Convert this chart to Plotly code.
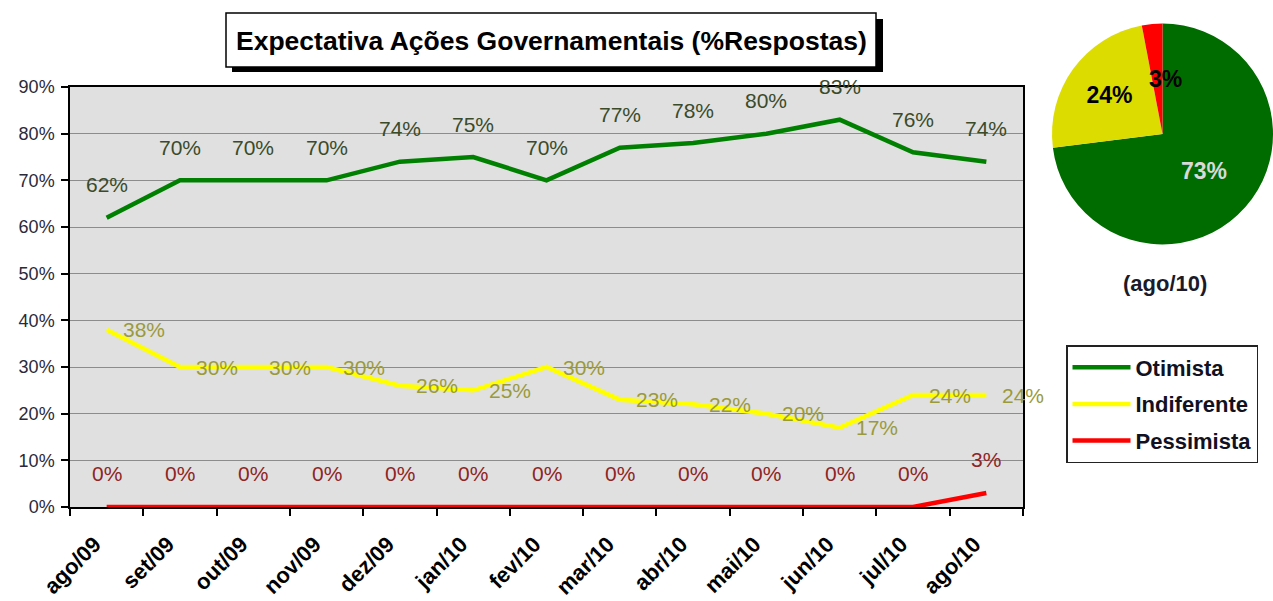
import plotly.graph_objects as go

# ---------------- data ----------------
months = ["ago/09", "set/09", "out/09", "nov/09", "dez/09", "jan/10", "fev/10",
          "mar/10", "abr/10", "mai/10", "jun/10", "jul/10", "ago/10"]
otimista = [62, 70, 70, 70, 74, 75, 70, 77, 78, 80, 83, 76, 74]
indiferente = [38, 30, 30, 30, 26, 25, 30, 23, 22, 20, 17, 24, 24]
pessimista = [0, 0, 0, 0, 0, 0, 0, 0, 0, 0, 0, 0, 3]

pie_labels = ["Otimista", "Indiferente", "Pessimista"]
pie_values = [73, 24, 3]
pie_month = "(ago/10)"

y_ticks = [0, 10, 20, 30, 40, 50, 60, 70, 80, 90]
y_ticktext = [f"{v}%" for v in y_ticks]

# ---------------- layout geometry ----------------
W, H = 1273, 601
ML, MR, MT, MB = 70, 0, 0, 94
PW, PH = W - ML - MR, H - MT - MB


def px_x(p):
    return (p - ML) / PW


def px_y(p):
    return (H - MB - p) / PH


FONT = "Liberation Sans, Arial, sans-serif"
GREEN, YELLOW, RED = "#008000", "#FFFF00", "#FF0000"

fig = go.Figure()

series = [
    ("Otimista", otimista, GREEN),
    ("Indiferente", indiferente, YELLOW),
    ("Pessimista", pessimista, RED),
]
for name, vals, col in series:
    fig.add_trace(go.Scatter(
        x=months, y=vals, name=name, mode="lines",
        line=dict(color=col, width=4.5),
        cliponaxis=False, legendgroup=name,
    ))

# data labels
label_style = {
    "Otimista": dict(color="#3A4B2A", xshift=0, yshift=33),
    "Indiferente": dict(color="#9A9A3C", xshift=37, yshift=0),
    "Pessimista": dict(color="#8E2424", xshift=0, yshift=34),
}
for name, vals, col in series:
    st = label_style[name]
    for m, v in zip(months, vals):
        fig.add_annotation(
            x=m, y=v, xref="x", yref="y", text=f"{v}%", showarrow=False,
            xanchor="center", yanchor="middle",
            xshift=st["xshift"], yshift=st["yshift"],
            font=dict(family=FONT, size=21, color=st["color"]),
        )

# pie
fig.add_trace(go.Pie(
    labels=pie_labels, values=pie_values, sort=False, direction="clockwise",
    rotation=0, showlegend=False,
    marker=dict(colors=["#006C00", "#DCDC00", RED]),
    texttemplate=["%{percent:.0%}", "%{percent:.0%}", ""],
    textposition="inside", insidetextorientation="horizontal",
    textfont=dict(family=FONT, size=23, weight="bold", color=["#D9D9D9", "black", "black"]),
    domain=dict(x=[px_x(1052), 1.0], y=[px_y(252), px_y(16)]),
    hoverinfo="label+percent",
))

# label of the thin slice, placed over it like in the original
fig.add_annotation(
    x=px_x(1165), y=px_y(79), xref="paper", yref="paper",
    text=f"{pie_values[2]}%", xanchor="center", yanchor="middle", showarrow=False,
    font=dict(family=FONT, size=23, weight="bold", color="black"),
)

fig.add_annotation(
    x=px_x(1165), y=px_y(283), xref="paper", yref="paper", text=pie_month,
    xanchor="center", yanchor="middle",
    showarrow=False, font=dict(family=FONT, size=22, weight="bold", color="#1A1A2A"),
)

# title box with shadow
fig.add_shape(type="rect", xref="paper", yref="paper",
              x0=px_x(232), x1=px_x(883), y0=px_y(72), y1=px_y(19),
              fillcolor="black", line=dict(width=0), layer="below")
fig.add_shape(type="rect", xref="paper", yref="paper",
              x0=px_x(226), x1=px_x(876), y0=px_y(67), y1=px_y(13),
              fillcolor="white", line=dict(color="black", width=1.5), layer="below")
fig.add_annotation(
    x=px_x(551), y=px_y(41), xref="paper", yref="paper",
    xanchor="center", yanchor="middle",
    text="Expectativa Ações Governamentais (%Respostas)", showarrow=False,
    font=dict(family=FONT, size=26.5, weight="bold", color="black"),
)

fig.update_layout(
    width=W, height=H,
    margin=dict(l=ML, r=MR, t=MT, b=MB, pad=0, autoexpand=False),
    paper_bgcolor="white", plot_bgcolor="#E0E0E0",
    font=dict(family=FONT, color="#222"),
    showlegend=True,
    uniformtext=dict(minsize=22, mode="show"),
    legend=dict(
        x=px_x(1066), y=px_y(345), xanchor="left", yanchor="top",
        bordercolor="#222", borderwidth=1.5, bgcolor="white",
        font=dict(family=FONT, size=22, weight="bold", color="#111122"),
        traceorder="grouped", tracegroupgap=5, itemwidth=58,
    ),
    xaxis=dict(
        domain=[0, px_x(1023)], type="category", range=[-0.5, 12.5],
        automargin=False, layer="below traces",
        tickson="boundaries", ticks="outside", ticklen=7, tickwidth=1.5, tickcolor="black",
        showgrid=False, showline=True, linecolor="black", linewidth=1.5, mirror=True,
        tickangle=-45, ticklabelstandoff=14, ticklabelshift=-12,
        tickfont=dict(family=FONT, size=22, weight="bold", color="black"),
        fixedrange=True,
    ),
    yaxis=dict(
        domain=[0, px_y(87)], range=[0, 90], tickvals=y_ticks, ticktext=y_ticktext,
        automargin=False, layer="below traces",
        ticks="outside", ticklen=7, tickwidth=1.5, tickcolor="black",
        showgrid=True, gridcolor="#8C8C8C", gridwidth=1.2,
        showline=True, linecolor="black", linewidth=1.5, mirror=True, zeroline=False,
        ticklabelstandoff=3,
        tickfont=dict(family=FONT, size=18, color="#2A2A3A"),
        fixedrange=True,
    ),
)

fig.write_html("out.html", config={"displayModeBar": False},
               post_script="document.body.style.margin='0';document.body.style.overflow='hidden';")
